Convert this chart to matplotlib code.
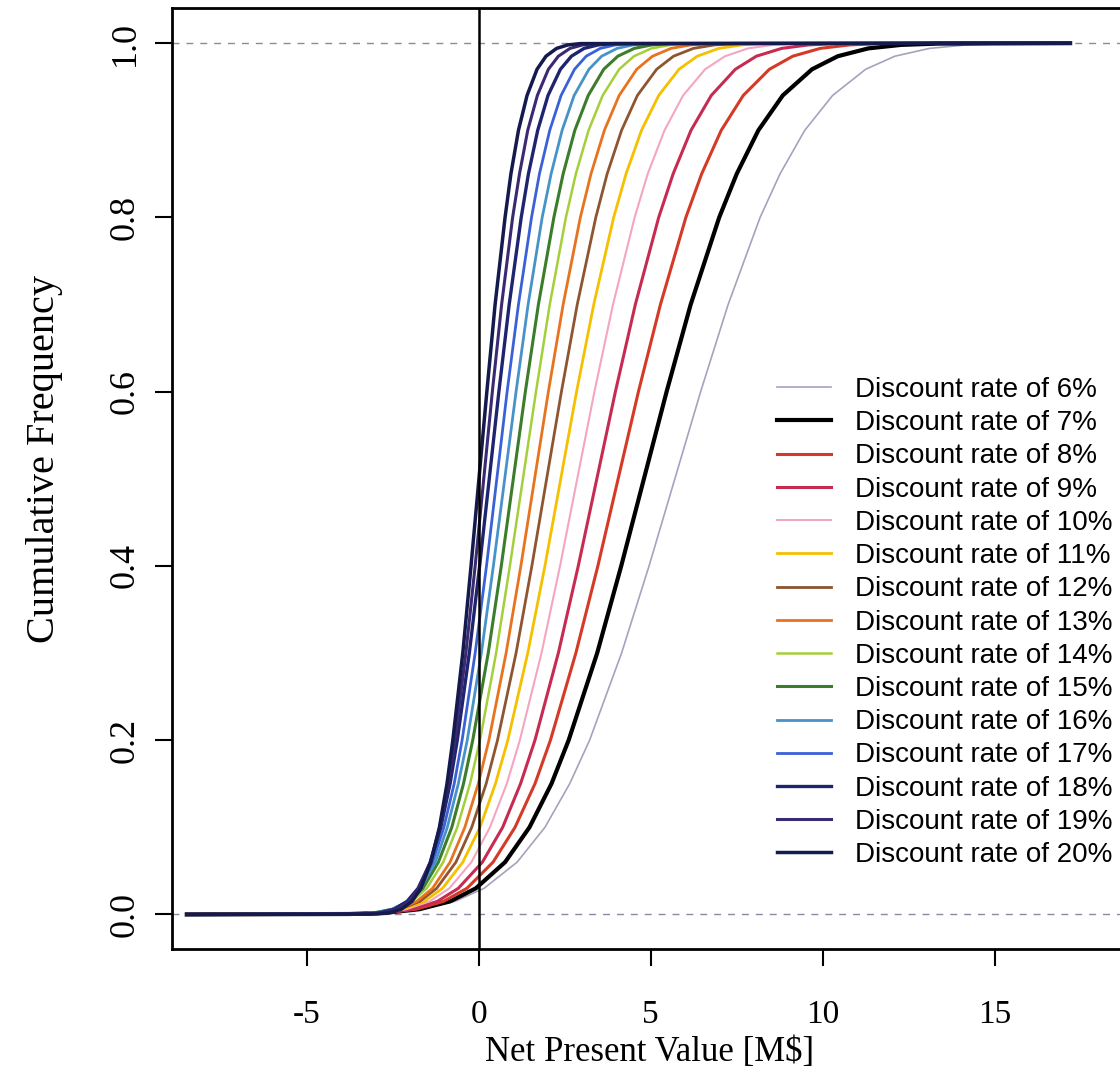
import matplotlib.pyplot as plt

# cumulative frequency levels at which the curves were read
cum_freq = [0.0, 0.0005, 0.002, 0.006, 0.015, 0.03, 0.06, 0.1, 0.15, 0.2, 0.3, 0.4, 0.5,
            0.6, 0.7, 0.8, 0.85, 0.9, 0.94, 0.97, 0.985, 0.994, 0.998, 0.9995, 1.0]

# net present value [M$] where each curve reaches the levels above
npv_06 = [-8.5, -4.01, -2.79, -1.71, -0.70, 0.15, 1.11, 1.92, 2.64, 3.22, 4.15, 4.95, 5.70,
          6.45, 7.25, 8.18, 8.76, 9.48, 10.29, 11.25, 12.10, 13.11, 14.19, 15.41, 17.2]
npv_07 = [-8.5, -3.76, -2.68, -1.73, -0.84, -0.09, 0.76, 1.47, 2.11, 2.61, 3.44, 4.14, 4.80,
          5.46, 6.16, 6.99, 7.50, 8.13, 8.84, 9.69, 10.44, 11.33, 12.28, 13.36, 17.2]
npv_08 = [-8.5, -3.65, -2.69, -1.83, -1.03, -0.35, 0.41, 1.05, 1.63, 2.08, 2.82, 3.46, 4.05,
          4.64, 5.28, 6.02, 6.48, 7.05, 7.69, 8.45, 9.13, 9.93, 10.79, 11.75, 17.2]
npv_09 = [-8.5, -3.61, -2.73, -1.95, -1.21, -0.60, 0.10, 0.69, 1.21, 1.63, 2.31, 2.89, 3.43,
          3.97, 4.55, 5.23, 5.65, 6.17, 6.76, 7.46, 8.07, 8.81, 9.59, 10.47, 17.2]
npv_10 = [-8.5, -3.66, -2.84, -2.11, -1.44, -0.86, -0.22, 0.32, 0.81, 1.19, 1.82, 2.36, 2.86,
          3.36, 3.90, 4.53, 4.91, 5.40, 5.94, 6.58, 7.16, 7.83, 8.56, 9.38, 17.2]
npv_11 = [-8.5, -3.64, -2.89, -2.22, -1.59, -1.06, -0.47, 0.03, 0.48, 0.84, 1.42, 1.92, 2.38,
          2.84, 3.34, 3.92, 4.28, 4.73, 5.23, 5.82, 6.35, 6.98, 7.65, 8.40, 17.2]
npv_12 = [-8.5, -3.63, -2.92, -2.30, -1.72, -1.23, -0.67, -0.21, 0.21, 0.54, 1.08, 1.54, 1.97,
          2.40, 2.86, 3.40, 3.73, 4.15, 4.61, 5.17, 5.66, 6.24, 6.86, 7.57, 17.2]
npv_13 = [-8.5, -3.58, -2.93, -2.35, -1.81, -1.35, -0.84, -0.41, -0.02, 0.29, 0.79, 1.22, 1.62,
          2.02, 2.45, 2.95, 3.26, 3.65, 4.08, 4.59, 5.05, 5.59, 6.17, 6.82, 17.2]
npv_14 = [-8.5, -3.62, -3.01, -2.46, -1.95, -1.52, -1.04, -0.63, -0.26, 0.03, 0.50, 0.90, 1.28,
          1.66, 2.06, 2.53, 2.82, 3.19, 3.60, 4.08, 4.51, 5.02, 5.57, 6.18, 17.2]
npv_15 = [-8.5, -3.61, -3.03, -2.52, -2.04, -1.63, -1.18, -0.79, -0.45, -0.18, 0.27, 0.65, 1.00,
          1.35, 1.73, 2.18, 2.45, 2.79, 3.18, 3.63, 4.04, 4.52, 5.03, 5.61, 17.2]
npv_16 = [-8.5, -3.53, -2.99, -2.52, -2.07, -1.70, -1.27, -0.92, -0.60, -0.34, 0.07, 0.42, 0.75,
          1.08, 1.43, 1.84, 2.10, 2.42, 2.77, 3.20, 3.57, 4.02, 4.49, 5.03, 17.2]
npv_17 = [-8.5, -3.43, -2.93, -2.49, -2.08, -1.74, -1.35, -1.02, -0.72, -0.49, -0.11, 0.22, 0.52,
          0.82, 1.15, 1.53, 1.76, 2.06, 2.39, 2.78, 3.12, 3.53, 3.97, 4.47, 17.2]
npv_18 = [-8.5, -3.32, -2.87, -2.46, -2.09, -1.77, -1.41, -1.11, -0.84, -0.63, -0.28, 0.02, 0.30,
          0.58, 0.88, 1.23, 1.44, 1.71, 2.01, 2.37, 2.69, 3.06, 3.47, 3.92, 17.2]
npv_19 = [-8.5, -3.15, -2.74, -2.37, -2.03, -1.74, -1.42, -1.14, -0.90, -0.70, -0.38, -0.11, 0.14,
          0.39, 0.66, 0.98, 1.18, 1.42, 1.70, 2.02, 2.31, 2.65, 3.02, 3.43, 17.2]
npv_20 = [-8.5, -2.96, -2.59, -2.26, -1.95, -1.69, -1.40, -1.15, -0.93, -0.76, -0.47, -0.23, 0.00,
          0.23, 0.47, 0.76, 0.93, 1.15, 1.40, 1.69, 1.95, 2.26, 2.59, 2.96, 17.2]

rates = [6, 7, 8, 9, 10, 11, 12, 13, 14, 15, 16, 17, 18, 19, 20]
curves = [npv_06, npv_07, npv_08, npv_09, npv_10, npv_11, npv_12, npv_13,
          npv_14, npv_15, npv_16, npv_17, npv_18, npv_19, npv_20]

x_ticks = [-5, 0, 5, 10, 15]
y_ticks = [0.0, 0.2, 0.4, 0.6, 0.8, 1.0]

# line styles, one per rate
colores = ['#a3a3bd', '#000000', '#d43a26', '#c62c52', '#f4a6c0', '#f5c000', '#8e5530', '#e8731e',
           '#a5cf3a', '#3b7d2b', '#4793c9', '#3a62d6', '#1f2470', '#3a2a72', '#151a4e']
larguras = [1.2, 3.0, 2.2, 2.2, 1.5, 2.0, 2.0, 2.0, 1.8, 2.2, 2.0, 2.0, 2.4, 2.2, 2.5]

serif = 'Liberation Serif'

fig = plt.figure(figsize=(11.2, 10.74), dpi=100)
ax = fig.add_axes([172 / 1120, 1 - 949.3 / 1074, 960 / 1120, 941 / 1074])

# linhas de referencia
ax.axhline(0, color='#8a8aa0', lw=1.0, ls=(0, (5, 5)), zorder=1)
ax.axhline(1, color='#8a8aa0', lw=1.0, ls=(0, (5, 5)), zorder=1)

for rate, npv, cor, lw in zip(rates, curves, colores, larguras):
    ax.plot(npv, cum_freq, color=cor, lw=lw, label=f'Discount rate of {rate}%', zorder=2)

ax.axvline(0, color='black', lw=1.8, zorder=3)

ax.set_xlim(-8.93, 19.0)
ax.set_ylim(-0.04, 1.04)

ax.set_xticks(x_ticks)
ax.set_xticklabels([str(t) for t in x_ticks], family=serif, fontsize=24)
ax.set_yticks(y_ticks)
ax.set_yticklabels([f'{t:.1f}' for t in y_ticks], family=serif, fontsize=26,
                   rotation=90, va='center')
ax.tick_params(axis='x', direction='out', length=12, width=1.5, pad=24)
ax.tick_params(axis='y', direction='out', length=12, width=1.5, pad=10)
for lado in ['left', 'bottom', 'top', 'right']:
    ax.spines[lado].set_linewidth(2)

fig.text(650 / 1120, 1 - 1052 / 1074, 'Net Present Value [M$]', family=serif, fontsize=25,
         ha='center', va='center')
fig.text(45 / 1120, 1 - 459 / 1074, 'Cumulative Frequency', family=serif, fontsize=29,
         ha='center', va='center', rotation=90)

ax.legend(loc='upper left', bbox_to_anchor=(777 / 1120, 1 - 377 / 1074),
          bbox_transform=fig.transFigure, frameon=False, borderpad=0, borderaxespad=0,
          handlelength=1.94, handletextpad=0.86, labelspacing=0.26,
          prop={'family': 'Liberation Sans', 'size': 20})

fig.savefig('out.png', dpi=100)
